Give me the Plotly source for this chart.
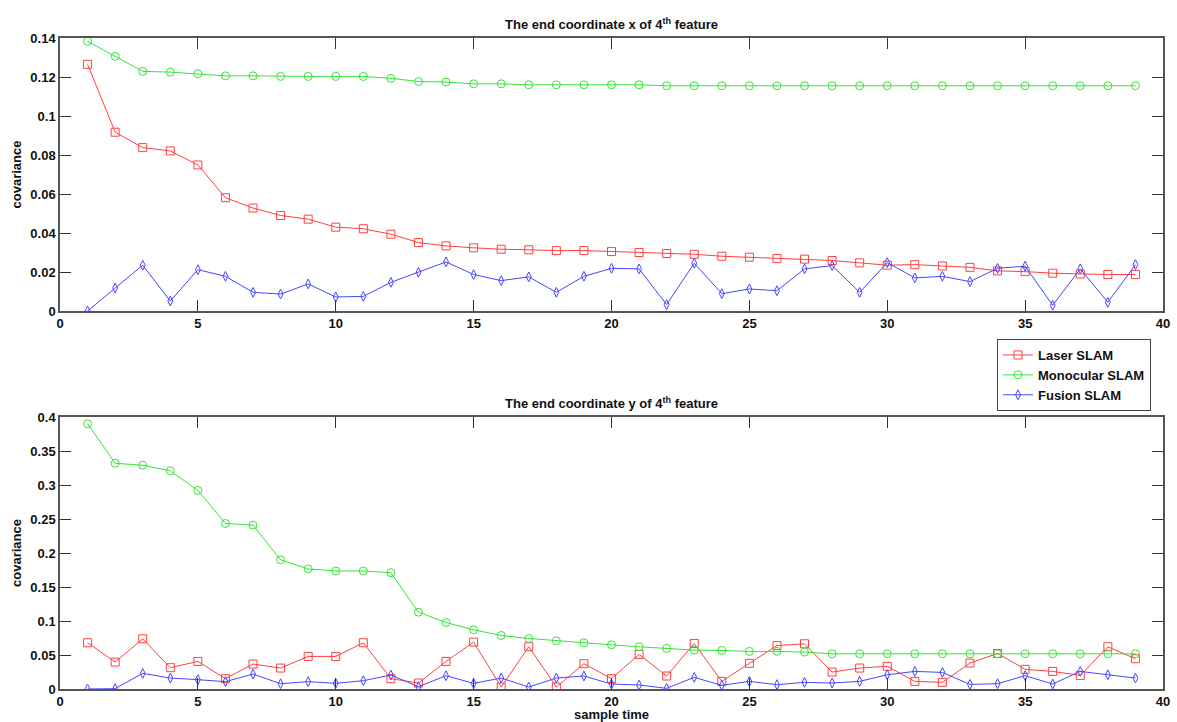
import plotly.graph_objects as go

sample_time = list(range(1, 40))

# Top panel: end coordinate x of 4th feature
laser_x = [0.1265, 0.0917, 0.0838, 0.0821, 0.0749, 0.0581, 0.0528, 0.0490, 0.0471, 0.0430,
           0.0422, 0.0394, 0.0351, 0.0334, 0.0324, 0.0317, 0.0314, 0.0310, 0.0310, 0.0305,
           0.0300, 0.0295, 0.0291, 0.0281, 0.0276, 0.0269, 0.0266, 0.0259, 0.0247, 0.0235,
           0.0238, 0.0231, 0.0224, 0.0206, 0.0202, 0.0194, 0.0190, 0.0187, 0.0187]
mono_x = [0.1383, 0.1306, 0.1229, 0.1225, 0.1217, 0.1206, 0.1206, 0.1203, 0.1203, 0.1203,
          0.1203, 0.1193, 0.1177, 0.1174, 0.1165, 0.1165, 0.1160, 0.1160, 0.1160, 0.1160,
          0.1160, 0.1155, 0.1155, 0.1155, 0.1155, 0.1155, 0.1155, 0.1155, 0.1155, 0.1155,
          0.1155, 0.1155, 0.1155, 0.1155, 0.1155, 0.1155, 0.1155, 0.1155, 0.1155]
fusion_x = [0.0000, 0.0118, 0.0235, 0.0051, 0.0212, 0.0178, 0.0096, 0.0087, 0.0139, 0.0072,
            0.0075, 0.0147, 0.0199, 0.0252, 0.0187, 0.0156, 0.0175, 0.0096, 0.0178, 0.0219,
            0.0216, 0.0033, 0.0245, 0.0089, 0.0113, 0.0104, 0.0216, 0.0233, 0.0096, 0.0248,
            0.0170, 0.0178, 0.0151, 0.0219, 0.0230, 0.0029, 0.0216, 0.0045, 0.0238]

# Bottom panel: end coordinate y of 4th feature
laser_y = [0.0680, 0.0396, 0.0738, 0.0313, 0.0406, 0.0152, 0.0367, 0.0308, 0.0479, 0.0479,
           0.0680, 0.0152, 0.0088, 0.0406, 0.0690, 0.0029, 0.0621, 0.0029, 0.0372, 0.0152,
           0.0509, 0.0191, 0.0670, 0.0112, 0.0377, 0.0638, 0.0665, 0.0249, 0.0308, 0.0333,
           0.0112, 0.0098, 0.0381, 0.0523, 0.0289, 0.0259, 0.0200, 0.0621, 0.0445]
mono_y = [0.3900, 0.3320, 0.3290, 0.3210, 0.2920, 0.2435, 0.2410, 0.1900, 0.1765, 0.1736,
          0.1736, 0.1710, 0.1130, 0.0978, 0.0870, 0.0787, 0.0743, 0.0709, 0.0680, 0.0650,
          0.0621, 0.0597, 0.0572, 0.0567, 0.0553, 0.0553, 0.0543, 0.0518, 0.0518, 0.0518,
          0.0518, 0.0518, 0.0518, 0.0518, 0.0518, 0.0518, 0.0518, 0.0518, 0.0518]
fusion_y = [0.0000, 0.0005, 0.0230, 0.0161, 0.0137, 0.0108, 0.0220, 0.0078, 0.0108, 0.0083,
            0.0122, 0.0205, 0.0034, 0.0196, 0.0083, 0.0161, 0.0029, 0.0161, 0.0191, 0.0073,
            0.0059, 0.0010, 0.0171, 0.0054, 0.0112, 0.0063, 0.0098, 0.0088, 0.0112, 0.0210,
            0.0259, 0.0244, 0.0068, 0.0078, 0.0196, 0.0073, 0.0259, 0.0210, 0.0161]

x_ticks = [0, 5, 10, 15, 20, 25, 30, 35, 40]
top_yticks = [0, 0.02, 0.04, 0.06, 0.08, 0.1, 0.12, 0.14]
top_ytext = ["0", "0.02", "0.04", "0.06", "0.08", "0.1", "0.12", "0.14"]
bot_yticks = [0, 0.05, 0.1, 0.15, 0.2, 0.25, 0.3, 0.35, 0.4]
bot_ytext = ["0", "0.05", "0.1", "0.15", "0.2", "0.25", "0.3", "0.35", "0.4"]

series_names = ["Laser SLAM", "Monocular SLAM", "Fusion SLAM"]
colors = ["#ff4040", "#33e633", "#4646ff"]
symbols = ["square-open", "circle-open", "diamond-tall-open"]
sizes = [8, 8, 7]

FONT = "Arial, Liberation Sans, sans-serif"

fig = go.Figure()

top_data = [laser_x, mono_x, fusion_x]
bot_data = [laser_y, mono_y, fusion_y]

for i in range(3):
    fig.add_trace(go.Scatter(
        x=sample_time, y=top_data[i], name=series_names[i], mode="lines+markers",
        line=dict(color=colors[i], width=1),
        marker=dict(symbol=symbols[i], size=sizes[i], color=colors[i], line=dict(width=1, color=colors[i])),
        xaxis="x", yaxis="y", legendgroup=series_names[i], showlegend=False))
for i in range(3):
    fig.add_trace(go.Scatter(
        x=sample_time, y=bot_data[i], name=series_names[i], mode="lines+markers",
        line=dict(color=colors[i], width=1),
        marker=dict(symbol=symbols[i], size=sizes[i], color=colors[i], line=dict(width=1, color=colors[i])),
        xaxis="x2", yaxis="y2", legendgroup=series_names[i], showlegend=True))

axis_common = dict(
    showline=True, linecolor="#555555", linewidth=1.5, mirror="ticks",
    ticks="inside", ticklen=11, tickwidth=1, tickcolor="#333333",
    showgrid=False, zeroline=False, automargin=False,
    tickfont=dict(family=FONT, size=13, color="#111111", weight="bold"),
)

top_dom = [0.5806, 1.0]
bot_dom = [0.0, 0.4178]

fig.update_layout(
    width=1177, height=722,
    margin=dict(l=60, r=14, t=38, b=33),
    paper_bgcolor="white", plot_bgcolor="white",
    font=dict(family=FONT, color="#111111"),
    xaxis=dict(domain=[0, 1], range=[0, 40], tickvals=x_ticks, anchor="y", **axis_common),
    yaxis=dict(domain=top_dom, range=[0, 0.14], tickvals=top_yticks, ticktext=top_ytext, anchor="x",
               title=dict(text="covariance", font=dict(family=FONT, size=13, weight="bold"), standoff=6),
               **axis_common),
    xaxis2=dict(domain=[0, 1], range=[0, 40], tickvals=x_ticks, anchor="y2",
                title=dict(text="sample time", font=dict(family=FONT, size=13, weight="bold"), standoff=2),
                **axis_common),
    yaxis2=dict(domain=bot_dom, range=[0, 0.4], tickvals=bot_yticks, ticktext=bot_ytext, anchor="x2",
                title=dict(text="covariance", font=dict(family=FONT, size=13, weight="bold"), standoff=6),
                **axis_common),
    legend=dict(x=0.8495, y=0.5376, xanchor="left", yanchor="top",
                bgcolor="white", bordercolor="#444444", borderwidth=1,
                font=dict(family=FONT, size=13, color="#111111", weight="bold"),
                tracegroupgap=0, itemwidth=30),
    annotations=[
        dict(text="The end coordinate x of 4<sup>th</sup> feature", x=0.5, y=1.0, xref="paper", yref="paper",
             xanchor="center", yanchor="bottom", yshift=4, showarrow=False,
             font=dict(family=FONT, size=13, color="#111111", weight="bold")),
        dict(text="The end coordinate y of 4<sup>th</sup> feature", x=0.5, y=bot_dom[1], xref="paper", yref="paper",
             xanchor="center", yanchor="bottom", yshift=4, showarrow=False,
             font=dict(family=FONT, size=13, color="#111111", weight="bold")),
    ],
)

fig.write_html("out.html")
